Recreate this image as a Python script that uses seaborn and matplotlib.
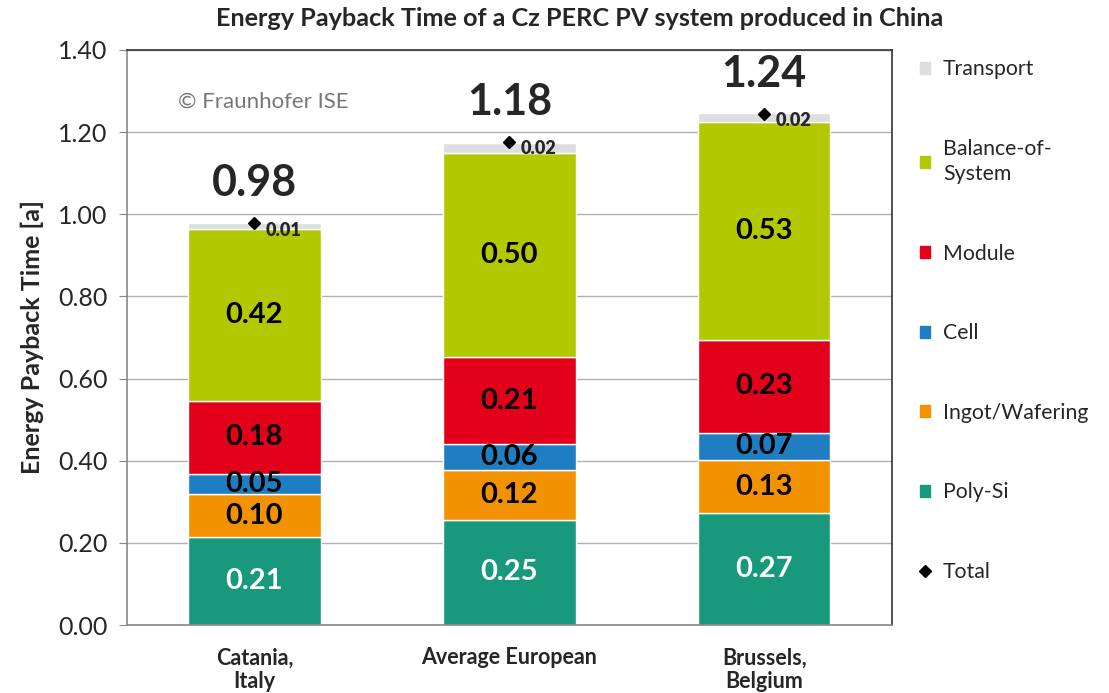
import matplotlib
matplotlib.use("Agg")
import matplotlib.pyplot as plt
import seaborn as sns
import numpy as np
import pandas as pd
from matplotlib.lines import Line2D
from matplotlib.patches import Patch

# data
sites = ["Catania,\nItaly", "Average European", "Brussels,\nBelgium"]
components = ["Poly-Si", "Ingot/Wafering", "Cell", "Module", "Balance-of-\nSystem", "Transport"]
poly_si = [0.214, 0.256, 0.272]
ingot = [0.104, 0.122, 0.130]
cell = [0.050, 0.062, 0.066]
module = [0.178, 0.213, 0.226]
bos = [0.418, 0.497, 0.530]
transport = [0.014, 0.024, 0.022]
totals = [0.978, 1.176, 1.244]
total_labels = ["0.98", "1.18", "1.24"]
seg_labels = [
    ["0.21", "0.25", "0.27"],
    ["0.10", "0.12", "0.13"],
    ["0.05", "0.06", "0.07"],
    ["0.18", "0.21", "0.23"],
    ["0.42", "0.50", "0.53"],
]
transport_labels = ["0.01", "0.02", "0.02"]

colors = ["#19997b", "#f39200", "#1f7dc1", "#e2001a", "#b2c800", "#dcdedf"]
label_colors = ["white", "black", "black", "black", "black"]

sns.set_style("white")
plt.rcParams["font.family"] = ["Lato", "DejaVu Sans"]

fig = plt.figure(figsize=(11.09, 6.93), dpi=100)
ax = fig.add_axes([0.1145, 0.098, 0.6895, 0.83])

df = pd.DataFrame({"site": sites})
layers = [poly_si, ingot, cell, module, bos, transport]
bottom = np.zeros(3)
for i, vals in enumerate(layers):
    df["val"] = vals
    sns.barplot(data=df, x="site", y="val", bottom=bottom, color=colors[i],
                width=0.52, errorbar=None, saturation=1, ax=ax)
    if i < 5:
        for j in range(3):
            ax.text(j, bottom[j] + vals[j] / 2, seg_labels[i][j], ha="center",
                    va="center", fontsize=21, fontweight="bold", color=label_colors[i])
    bottom = bottom + np.array(vals)

# total markers
ax.plot(range(3), totals, linestyle="none", marker="D", color="black", markersize=6)
for j in range(3):
    ax.annotate(transport_labels[j], (j, totals[j]), xytext=(8, -5),
                textcoords="offset points", ha="left", va="center",
                fontsize=13, fontweight="heavy")
    ax.annotate(total_labels[j], (j, totals[j]), xytext=(0, 29),
                textcoords="offset points", ha="center", va="center",
                fontsize=31, fontweight="bold")

ax.text(-0.3, 1.275, "© Fraunhofer ISE", fontsize=16, color="#777777",
        ha="left", va="center")

ax.set_xlim(-0.5, 2.5)
ax.set_ylim(0, 1.4)
ax.set_yticks(np.arange(0, 1.41, 0.2))
ax.set_yticklabels([f"{v:.2f}" for v in np.arange(0, 1.41, 0.2)], fontsize=18)
ax.set_xticks(range(3))
ax.set_xticklabels(sites, fontsize=15.5, fontweight="bold", linespacing=1.15)
ax.set_xticks([-0.5, 0.5, 1.5, 2.5], minor=True)
ax.tick_params(axis="x", which="major", length=0, pad=16)
ax.tick_params(axis="x", which="minor", length=6, color="#888888", direction="out")
ax.tick_params(axis="y", length=6, color="#888888", direction="out", left=True, pad=8)
ax.yaxis.grid(True, color="#b0b0b0", linewidth=1)
ax.set_axisbelow(True)
ax.set_xlabel("")
ax.set_ylabel("Energy Payback Time [a]", fontsize=18, fontweight="bold", labelpad=10)
for side in ["left", "bottom"]:
    ax.spines[side].set_color("#888888")
for side in ["top", "right"]:
    ax.spines[side].set_color("#333333")
for sp in ax.spines.values():
    sp.set_linewidth(1.2)

fig.text(0.523, 0.974, "Energy Payback Time of a Cz PERC PV system produced in China",
         fontsize=18.2, fontweight="bold", ha="center", va="center")

handles = [Patch(color=colors[i], label=components[i]) for i in range(5, -1, -1)]
handles.append(Line2D([], [], linestyle="none", marker="D", color="black",
                      markersize=6, label="Total"))
leg = fig.legend(handles=handles, loc="upper left", bbox_to_anchor=(0.812, 0.942),
                 frameon=False, fontsize=15.3, labelspacing=2.8,
                 handlelength=0.5, handleheight=0.5, handletextpad=0.6)
for t in leg.get_texts():
    t.set_linespacing(1.35)

fig.savefig("out.png", dpi=100)
